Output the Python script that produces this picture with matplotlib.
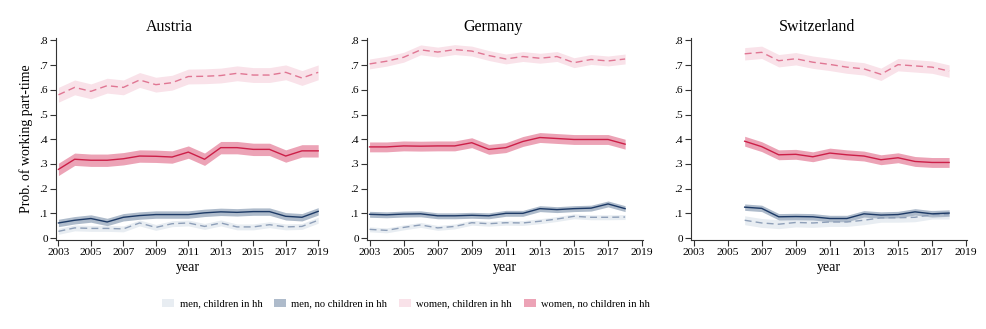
import numpy as np
import matplotlib
matplotlib.use("Agg")
import matplotlib.pyplot as plt
from matplotlib.patches import Patch

plt.rcParams["font.family"] = ["Liberation Serif", "DejaVu Serif"]

# ------------------------------------------------------------------ estimates
years_at = list(range(2003, 2020))
years_de = list(range(2003, 2019))
years_ch = list(range(2006, 2019))

at_men_kids = [0.027, 0.041, 0.039, 0.039, 0.037, 0.061, 0.043, 0.058, 0.061,
               0.047, 0.061, 0.045, 0.045, 0.054, 0.045, 0.047, 0.072]
at_men_nokids = [0.061, 0.072, 0.079, 0.065, 0.084, 0.091, 0.095, 0.095, 0.095,
                 0.102, 0.106, 0.104, 0.107, 0.107, 0.088, 0.084, 0.108]
at_women_kids = [0.580, 0.610, 0.594, 0.617, 0.610, 0.640, 0.621, 0.629, 0.654,
                 0.655, 0.658, 0.667, 0.660, 0.660, 0.671, 0.648, 0.671]
at_women_nokids = [0.278, 0.319, 0.315, 0.315, 0.321, 0.332, 0.331, 0.328, 0.348,
                   0.319, 0.366, 0.366, 0.359, 0.359, 0.332, 0.353, 0.353]

de_men_kids = [0.035, 0.031, 0.043, 0.053, 0.041, 0.047, 0.062, 0.058, 0.062,
               0.061, 0.068, 0.077, 0.088, 0.084, 0.084, 0.085]
de_men_nokids = [0.096, 0.094, 0.097, 0.098, 0.090, 0.090, 0.092, 0.090, 0.100,
                 0.100, 0.119, 0.115, 0.119, 0.121, 0.138, 0.119]
de_women_kids = [0.705, 0.716, 0.732, 0.762, 0.753, 0.763, 0.757, 0.739, 0.725,
                 0.735, 0.728, 0.735, 0.710, 0.723, 0.717, 0.725]
de_women_nokids = [0.369, 0.369, 0.373, 0.372, 0.373, 0.373, 0.386, 0.359, 0.366,
                   0.391, 0.407, 0.403, 0.399, 0.399, 0.399, 0.380]

ch_men_kids = [0.072, 0.061, 0.056, 0.063, 0.061, 0.065, 0.065, 0.072, 0.082,
               0.082, 0.084, 0.095, 0.095]
ch_men_nokids = [0.125, 0.120, 0.086, 0.087, 0.086, 0.079, 0.079, 0.098, 0.093,
                 0.095, 0.106, 0.098, 0.101]
ch_women_kids = [0.746, 0.752, 0.718, 0.726, 0.712, 0.703, 0.692, 0.685, 0.663,
                 0.702, 0.697, 0.692, 0.676]
ch_women_nokids = [0.392, 0.370, 0.337, 0.339, 0.329, 0.344, 0.337, 0.332, 0.317,
                   0.325, 0.310, 0.306, 0.306]

# half-width of the 95% band, per group (men kids, men no kids, women kids, women no kids)
at_ci = [0.012, 0.015, 0.030, 0.025]
de_ci = [0.010, 0.012, 0.020, 0.020]
ch_ci = [0.018, 0.013, 0.025, 0.020]

groups = ["men, children in hh", "men, no children in hh",
          "women, children in hh", "women, no children in hh"]
band_colors = ["#e8edf2", "#aebbcb", "#f9e2e9", "#eca3b6"]
line_colors = ["#8e9fb8", "#1d3a66", "#e07693", "#cc1f48"]
line_styles = [(0, (5, 3)), "-", (0, (5, 3)), "-"]

countries = ["Austria", "Germany", "Switzerland"]
panel_years = [years_at, years_de, years_ch]
panel_series = [
    [at_men_kids, at_men_nokids, at_women_kids, at_women_nokids],
    [de_men_kids, de_men_nokids, de_women_kids, de_women_nokids],
    [ch_men_kids, ch_men_nokids, ch_women_kids, ch_women_nokids],
]
panel_ci = [at_ci, de_ci, ch_ci]

# ------------------------------------------------------------------- figure
W, H = 987, 329
fig = plt.figure(figsize=(W / 100, H / 100), dpi=100)

# axes boxes in pixels: (left, right); title centres in pixels
boxes = [(56, 319), (367, 643), (691, 967)]
title_x = [169, 493, 817]
top_px, bot_px = 38, 240

for i, (country, yrs, series, ci) in enumerate(zip(countries, panel_years,
                                                   panel_series, panel_ci)):
    l, r = boxes[i]
    ax = fig.add_axes([l / W, 1 - bot_px / H, (r - l) / W, (bot_px - top_px) / H])
    x = np.array(yrs)
    for k in range(4):
        y = np.array(series[k])
        ax.fill_between(x, y - ci[k], y + ci[k], color=band_colors[k],
                        lw=0, zorder=1 + k)
        ax.plot(x, y, color=line_colors[k], ls=line_styles[k], lw=1.0,
                zorder=5 + k)
    ax.set_xlim(2002.85, 2019.05)
    ax.set_ylim(-0.008, 0.81)
    ax.set_xticks(range(2003, 2020, 2))
    ax.set_yticks(np.arange(0, 0.81, 0.1))
    ax.set_yticklabels(["0", ".1", ".2", ".3", ".4", ".5", ".6", ".7", ".8"])
    ax.tick_params(labelsize=8.2, length=4, width=0.8, color="#333333",
                   pad=2)
    for side in ("top", "right"):
        ax.spines[side].set_visible(False)
    for side in ("left", "bottom"):
        ax.spines[side].set_color("#333333")
        ax.spines[side].set_linewidth(0.8)
    ax.set_xlabel("year", fontsize=10, labelpad=2.5)
    if i == 0:
        ax.set_ylabel("Prob. of working part-time", fontsize=10, labelpad=4)
    fig.text(title_x[i] / W, 1 - 27 / H, country,
             ha="center", va="center", fontsize=11.5)

handles = [Patch(facecolor=c, edgecolor="none", label=g)
           for c, g in zip(band_colors, groups)]
fig.legend(handles=handles, loc="center", bbox_to_anchor=(406 / W, 1 - 304 / H),
           ncol=4, frameon=False, fontsize=7.6, handlelength=1.15,
           handleheight=0.75, columnspacing=1.1, handletextpad=0.5,
           borderpad=0, borderaxespad=0)

fig.savefig("out.png", dpi=100)
